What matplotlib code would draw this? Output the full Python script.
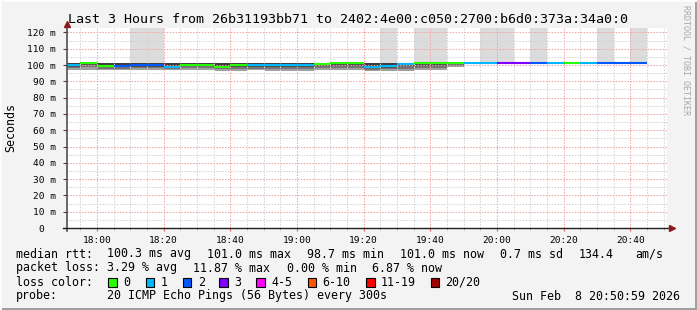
import numpy as np
import matplotlib.pyplot as plt
from matplotlib.patches import Rectangle
from matplotlib.lines import Line2D

W, H = 697, 310
MONO = 'DejaVu Sans Mono'

# time axis: minutes after midnight, first step is partial (graph starts 17:51)
t_edges = np.r_[17*60+51, np.arange(17*60+55, 20*60+50, 5)]

median = [100.0, 101.0, 99.4, 99.4, 100.0, 100.0, 98.8, 100.2, 100.2, 98.8,
          99.7, 99.7, 100.0, 100.0, 100.0, 100.4, 101.0, 101.0, 98.7, 99.4,
          100.6, 101.0, 101.0, 101.0, 101.0, 101.0, 101.0, 101.0, 101.0, 101.0,
          101.0, 101.0, 101.0, 101.0, 101.0]
loss = [1, 0, 0, 2, 2, 2, 1, 0, 0, 0,
        0, 1, 1, 1, 1, 0, 0, 0, 1, 1,
        1, 0, 0, 0, 1, 1, 3, 3, 2, 1,
        0, 1, 2, 2, 2]
smoke_hi = [101.5, 101.6, 101.4, 101.4, 101.4, 101.4, 101.4, 101.5, 101.5, 101.5,
            101.5, 101.5, 101.5, 101.5, 101.5, 101.5, 101.5, 101.5, 101.5, 101.5,
            101.5, 101.0, 101.0, 101.0, 101.0, 101.0, 101.0, 101.0, 101.0, 101.0,
            101.0, 101.0, 101.0, 101.0, 101.0]
smoke_lo = [96.9, 97.2, 96.9, 96.9, 97.0, 97.0, 96.8, 96.9, 96.9, 96.6,
            96.6, 96.7, 96.6, 96.6, 96.6, 96.7, 96.8, 96.8, 96.4, 96.3,
            96.4, 96.9, 96.9, 99.0, 101.0, 101.0, 101.0, 101.0, 101.0, 101.0,
            101.0, 101.0, 101.0, 101.0, 101.0]
ping_max = [101.5, 101.6, 101.4, 101.4, 130, 130, 101.4, 101.5, 101.5, 101.5,
            101.5, 101.5, 101.5, 101.5, 101.5, 101.5, 101.5, 101.5, 101.5, 130,
            101.5, 130, 130, 101.0, 101.0, 130, 130, 101.0, 130, 101.0,
            101.0, 101.0, 130, 101.0, 130]

loss_labels = ['0', '1', '2', '3', '4-5', '6-10', '11-19', '20/20']
loss_colors = ['#26ff00', '#00b8ff', '#0059ff', '#7e00ff', '#ff00ff',
               '#ff5500', '#ff0000', '#a10000']

x_ticks = [18*60, 18*60+20, 18*60+40, 19*60, 19*60+20, 19*60+40,
           20*60, 20*60+20, 20*60+40]
x_labels = ['18:00', '18:20', '18:40', '19:00', '19:20', '19:40',
            '20:00', '20:20', '20:40']
y_ticks = [0, 10, 20, 30, 40, 50, 60, 70, 80, 90, 100, 110, 120]
y_labels = ['0  ', '10 m', '20 m', '30 m', '40 m', '50 m', '60 m', '70 m',
            '80 m', '90 m', '100 m', '110 m', '120 m']


def loss_color(n):
    if n <= 3:
        return loss_colors[n]
    if n <= 5:
        return loss_colors[4]
    if n <= 10:
        return loss_colors[5]
    if n <= 19:
        return loss_colors[6]
    return loss_colors[7]


def fx(x):
    return x / W


def fy(y):
    return 1 - y / H


fig = plt.figure(figsize=(W/100, H/100), dpi=100, facecolor='#f3f3f3')
ax = fig.add_axes([fx(67), fy(228), 600/W, 200/H])
ax.set_facecolor('white')

x0 = t_edges[:-1]
wd = np.diff(t_edges)
med = np.array(median)
lo = np.array(smoke_lo)
hi = np.array(smoke_hi)
pmax = np.array(ping_max)

# light smoke above (values off the top of the chart)
ax.bar(x0, pmax - med, width=wd, bottom=med, align='edge', color='#dcdcdc', lw=0, zorder=1)
# smoke below the median, darker towards the median
ax.bar(x0, med - lo, width=wd, bottom=lo, align='edge', color='#a0a0a0', lw=0, zorder=2)
lo2 = med - (med - lo) * 0.66
ax.bar(x0, med - lo2, width=wd, bottom=lo2, align='edge', color='#747474', lw=0, zorder=2)
lo3 = med - (med - lo) * 0.33
ax.bar(x0, med - lo3, width=wd, bottom=lo3, align='edge', color='#505050', lw=0, zorder=2)
ax.bar(x0, hi - med, width=wd, bottom=med, align='edge', color='#3c3c3c', lw=0, zorder=2)

cols = [loss_color(n) for n in loss]
ax.hlines(med, t_edges[:-1], t_edges[1:], colors=cols, lw=1.5, zorder=4)

ax.set_xlim(17*60+51, 20*60+51)
ax.set_ylim(0, 122.7)

ax.set_xticks(x_ticks)
ax.set_xticklabels(x_labels)
ax.set_xticks(np.arange(17*60+55, 20*60+51, 5), minor=True)
ax.set_yticks(y_ticks)
ax.set_yticklabels(y_labels)
ax.set_yticks(np.arange(5, 125, 10), minor=True)

ax.grid(which='minor', color='#d4d4d4', linestyle=(0, (1.4, 1.4)), lw=0.75, zorder=3)
ax.grid(which='major', color='#f2a4a4', linestyle=(0, (1.4, 1.4)), lw=0.75, zorder=3)
ax.set_axisbelow(False)

for lab in ax.get_xticklabels() + ax.get_yticklabels():
    lab.set_family(MONO)
    lab.set_fontsize(6.8)
ax.tick_params(axis='x', which='major', length=2, color='#e06060', pad=4)
ax.tick_params(axis='x', which='minor', length=1.5, color='#b0b0b0')
ax.tick_params(axis='y', which='major', length=3, color='#404040', pad=5)
ax.tick_params(axis='y', which='minor', length=0)
for s in ax.spines.values():
    s.set_visible(False)

# axes with arrows
fig.add_artist(Line2D([fx(67), fx(67)], [fy(231), fy(25)], color='#505050', lw=1.2))
fig.add_artist(Line2D([fx(63), fx(671)], [fy(228), fy(228)], color='#202020', lw=1.0))
fig.add_artist(Line2D([fx(67)], [fy(24)], marker='^', color='#8b1a1a', ms=4.5, lw=0))
fig.add_artist(Line2D([fx(672)], [fy(228)], marker='>', color='#8b1a1a', ms=4.5, lw=0))

fig.text(fx(347.5), fy(19.5), 'Last 3 Hours from 26b31193bb71 to 2402:4e00:c050:2700:b6d0:373a:34a0:0',
         family=MONO, fontsize=9.6, ha='center', va='center')
fig.text(fx(11), fy(128), 'Seconds', family=MONO, fontsize=8.4, rotation=90,
         ha='center', va='center')
fig.text(fx(686), fy(5), 'RRDTOOL / TOBI OETIKER', family=MONO, fontsize=6,
         rotation=270, ha='center', va='top', color='#a8a8a8')

fs = 8.4
rows = [
    (254, [(16, 'median rtt:'), (107.3, '100.3 ms avg'), (207.3, '101.0 ms max'),
           (306.7, '98.7 ms min'), (400, '101.0 ms now'), (500, '0.7 ms sd'),
           (579, '134.4'), (635, 'am/s')]),
    (268, [(16, 'packet loss:'), (107.3, '3.29 % avg'), (192.7, '11.87 % max'),
           (287, '0.00 % min'), (372, '6.87 % now')]),
    (282, [(16, 'loss color:')]),
    (296, [(16, 'probe:'), (107.3, '20 ICMP Echo Pings (56 Bytes) every 300s')]),
]
for y, items in rows:
    for x, s in items:
        fig.text(fx(x), fy(y), s, family=MONO, fontsize=fs, ha='left', va='center')
fig.text(fx(680.5), fy(296), 'Sun Feb  8 20:50:59 2026', family=MONO, fontsize=fs,
         ha='right', va='center')

box_x = [108.3, 145.7, 182.7, 219.3, 256, 307.7, 366, 430.5]
for bx, lab, c in zip(box_x, loss_labels, loss_colors):
    fig.add_artist(Rectangle((fx(bx), fy(286.5)), 8.5/W, 8.5/H, transform=fig.transFigure,
                             facecolor=c, edgecolor='black', lw=0.8))
    fig.text(fx(bx + 15), fy(282), lab, family=MONO, fontsize=fs, ha='left', va='center')

# 3d border of the canvas
fig.add_artist(Rectangle((fx(694.5), 0), 2.5/W, 1, transform=fig.transFigure,
                         facecolor='#a0a0a0', lw=0))
fig.add_artist(Rectangle((0, 0), 1, 2.5/H, transform=fig.transFigure,
                         facecolor='#a0a0a0', lw=0))
fig.add_artist(Rectangle((0, fy(1.5)), 1, 1.5/H, transform=fig.transFigure,
                         facecolor='#fcfcfc', lw=0))
fig.add_artist(Rectangle((0, 0), 1.5/W, 1, transform=fig.transFigure,
                         facecolor='#fcfcfc', lw=0))

fig.savefig('out.png', dpi=100, facecolor=fig.get_facecolor())
